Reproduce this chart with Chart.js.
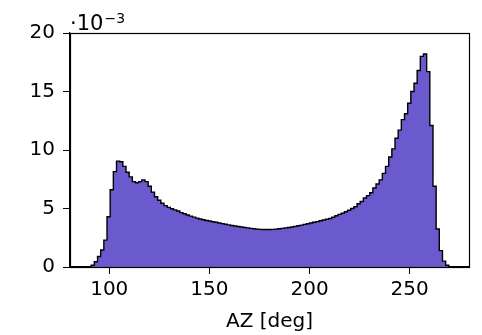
<!DOCTYPE html>
<html><head><meta charset="utf-8">
<script src="https://cdn.jsdelivr.net/npm/chart.js@4.4.0/dist/chart.umd.min.js"></script>
<style>html,body{margin:0;padding:0;background:#fff}#wrap{width:482px;height:335px}</style>
</head><body><div id="wrap"><canvas id="c" width="482" height="335"></canvas></div>
<script>
// Histogram of AZ [deg]; density values in units of 10^-3
const binStart = 89.4;
const binWidth = 1.58;
const density = [
  0.03, 0.15, 0.45, 0.9, 1.45, 2.3, 4.3, 6.6, 8.15, 9.05,
  9.0, 8.6, 8.1, 7.7, 7.3, 7.2, 7.3, 7.45, 7.3, 6.9,
  6.4, 6.0, 5.7, 5.45, 5.25, 5.1, 4.98, 4.88, 4.78, 4.65,
  4.55, 4.45, 4.35, 4.26, 4.18, 4.1, 4.04, 3.98, 3.93, 3.87,
  3.82, 3.76, 3.71, 3.66, 3.6, 3.55, 3.5, 3.46, 3.42, 3.38,
  3.34, 3.3, 3.27, 3.24, 3.22, 3.2, 3.2, 3.2, 3.22, 3.24,
  3.27, 3.3, 3.34, 3.38, 3.42, 3.47, 3.52, 3.58, 3.64, 3.7,
  3.76, 3.82, 3.88, 3.95, 4.02, 4.08, 4.15, 4.25, 4.38, 4.5,
  4.6, 4.72, 4.85, 5.0, 5.15, 5.4, 5.6, 5.9, 6.1, 6.35,
  6.75, 7.1, 7.45, 8.0, 8.6, 9.4, 10.1, 11.0, 11.7, 12.6,
  13.1, 14.0, 15.0, 15.7, 16.8, 18.0, 18.2, 16.7, 12.1, 6.9,
  3.25, 1.4, 0.5, 0.15
];
const xTicks = [100, 150, 200, 250];
const yTicks = [0, 5, 10, 15, 20];
const xRange = [80.4, 279.6];
const yRange = [0, 20];

const FONT = 'DejaVu Sans';
const pts = [{x: binStart, y: 0}];
density.forEach((v, k) => pts.push({x: binStart + k * binWidth, y: v}));
const binEnd = binStart + density.length * binWidth;
pts.push({x: binEnd, y: density[density.length - 1]});
pts.push({x: binEnd, y: 0});

const frame = {
  id: 'frame',
  afterDraw(chart) {
    const {ctx, chartArea: a} = chart;
    ctx.save();
    ctx.strokeStyle = '#000';
    ctx.lineWidth = 1.2;
    ctx.strokeRect(Math.round(a.left) + 0.5, Math.round(a.top) + 0.5, Math.round(a.right - a.left), Math.round(a.bottom - a.top));
    ctx.fillStyle = '#000';
    ctx.textBaseline = 'alphabetic';
    ctx.textAlign = 'left';
    ctx.font = '21px ' + FONT;
    ctx.fillText('·10', 70, 30);
    const w = ctx.measureText('·10').width;
    ctx.font = '14px ' + FONT;
    ctx.fillText('−3', 70 + w + 1, 23);
    ctx.restore();
  }
};

new Chart(document.getElementById('c'), {
  type: 'line',
  data: {datasets: [{
    data: pts,
    stepped: true,
    fill: 'origin',
    backgroundColor: '#6a5acd',
    borderColor: '#000',
    borderWidth: 1.4,
    pointRadius: 0,
    tension: 0
  }]},
  options: {
    responsive: false,
    animation: false,
    devicePixelRatio: 1,
    layout: {padding: {top: 33, right: 13, left: 0, bottom: 0}},
    plugins: {legend: {display: false}, tooltip: {enabled: false}},
    scales: {
      x: {
        type: 'linear', min: xRange[0], max: xRange[1],
        afterBuildTicks: s => { s.ticks = xTicks.map(v => ({value: v})); },
        afterFit: s => { s.height = 68; },
        grid: {display: true, drawOnChartArea: false, drawTicks: true, tickLength: 7, tickColor: '#000', color: '#000'},
        border: {display: true, color: '#000', width: 1.2},
        ticks: {color: '#000', font: {family: FONT, size: 20}, padding: 4, maxRotation: 0, autoSkip: false},
        title: {display: true, text: 'AZ [deg]', color: '#000', font: {family: FONT, size: 20}, padding: {top: 0, bottom: 1}}
      },
      y: {
        type: 'linear', min: yRange[0], max: yRange[1],
        afterBuildTicks: s => { s.ticks = yTicks.map(v => ({value: v})); },
        afterFit: s => { s.width = 70; },
        grid: {display: true, drawOnChartArea: false, drawTicks: true, tickLength: 7, tickColor: '#000', color: '#000'},
        border: {display: true, color: '#000', width: 1.2},
        ticks: {color: '#000', font: {family: FONT, size: 20}, padding: 8}
      }
    }
  },
  plugins: [frame]
});
</script></body></html>
